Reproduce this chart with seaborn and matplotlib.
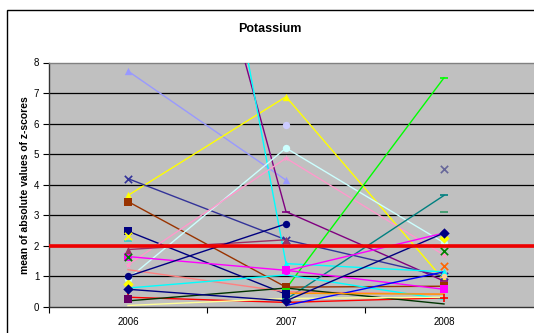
import numpy as np
import pandas as pd
import matplotlib
matplotlib.use("Agg")
import matplotlib.pyplot as plt
from matplotlib.patches import Rectangle
import seaborn as sns

# ---------- data ----------
years = ["2006", "2007", "2008"]
nan = np.nan

series_names = [f"s{i}" for i in range(1, 32)]
values = [
    [7.72, 4.15, nan],    # s1 lavender triangle
    [3.65, 6.88, 0.88],   # s2 yellow triangle
    [4.20, 2.20, 1.00],   # s3 slate x
    [3.45, 0.65, 0.68],   # s4 brown square
    [2.48, 0.42, nan],    # s5 navy square
    [22.0, 3.12, 0.85],   # s6 purple (clipped at 2006)
    [29.0, 1.42, 1.15],   # s7 cyan triangle (clipped at 2006)
    [0.92, 5.20, 2.10],   # s8 light cyan circle
    [1.38, 4.87, 1.70],   # s9 pink star
    [nan, 5.95, nan],     # s10 lavender circle
    [nan, 0.60, 7.50],    # s11 green dash
    [nan, 0.25, 3.65],    # s12 teal dash
    [nan, nan, 3.10],     # s13 sea green dash
    [nan, nan, 4.50],     # s14 grey-blue x
    [1.65, 1.20, 0.58],   # s15 magenta square
    [nan, 1.18, 2.42],    # s16 magenta circle
    [1.88, 2.20, nan],    # s17 mauve triangle
    [1.62, nan, 1.82],    # s18 green x
    [1.22, 0.50, 0.42],   # s19 salmon
    [0.62, 1.05, 0.25],   # s20 cyan
    [0.32, 0.15, 0.30],   # s21 red plus
    [0.25, nan, nan],     # s22 dark purple square
    [0.20, 0.62, 0.10],   # s23 dark green
    [0.05, 0.28, 0.32],   # s24 light yellow
    [nan, 0.05, 1.15],    # s25 blue
    [nan, 0.45, 0.42],    # s26 orange
    [0.75, nan, 2.25],    # s27 yellow diamond
    [2.15, nan, nan],     # s28 teal dash
    [2.32, nan, nan],     # s29 yellow x
    [1.00, 2.72, nan],    # s30 navy circle
    [0.58, 0.20, 2.42],   # s31 navy diamond
]
extra_marks = [           # single points with no line
    ("orange_x", 2, 1.35),
    ("peach", 2, 1.00),
]
threshold = 2.0

colors = ["#9999FF", "#FFFF00", "#333399", "#993300", "#000080", "#800080",
          "#00FFFF", "#CCFFFF", "#FF99CC", "#CCCCFF", "#00FF00", "#008080",
          "#339966", "#666699", "#FF00FF", "#FF00FF", "#993366", "#008000",
          "#FF8080", "#00FFFF", "#FF0000", "#660066", "#003300", "#FFFF99",
          "#0000FF", "#FF9900", "#FFFF00", "#33CCCC", "#FFFF00", "#000080",
          "#000080"]
markers = ["^", "^", "x", "s", "s", "_", "^", "o", "*", "o", "_", "_",
           "_", "x", "s", "o", "^", "x", None, None, "+", "s", None, None,
           None, None, "D", "_", "x", "o", "D"]

# ---------- long-form table, split into segments at gaps ----------
rows = []
for name, vals in zip(series_names, values):
    seg = 0
    for pos, v in enumerate(vals):
        if np.isnan(v):
            seg += 1
            continue
        rows.append({"series": name, "pos": pos, "value": v, "seg": f"{name}_{seg}"})
df = pd.DataFrame(rows)
palette = dict(zip(series_names, colors))

# ---------- figure ----------
fig = plt.figure(figsize=(5.34, 3.33), dpi=100)
plt.rcParams["font.family"] = ["Liberation Sans", "DejaVu Sans"]
ax = fig.add_axes([49 / 534, 26 / 333, 507 / 534, 244.5 / 333])
ax.set_facecolor("#C0C0C0")

for yv in range(1, 8):
    ax.axhline(yv, color="black", lw=0.9, zorder=1)

sns.lineplot(data=df, x="pos", y="value", hue="series", units="seg",
             estimator=None, palette=palette, lw=1.0, legend=False,
             ax=ax, zorder=3)

for name, mk in zip(series_names, markers):
    if mk is None:
        continue
    sub = df[df["series"] == name]
    sns.scatterplot(x=sub["pos"], y=sub["value"], color=palette[name],
                    marker=mk, s=28, linewidth=1.2 if mk in ("x", "+", "_") else 0,
                    edgecolor=palette[name], ax=ax, zorder=4, legend=False)

sns.scatterplot(x=[extra_marks[0][1]], y=[extra_marks[0][2]], color="#FF6600",
                marker="x", s=28, linewidth=1.2, ax=ax, zorder=4)
sns.scatterplot(x=[extra_marks[1][1]], y=[extra_marks[1][2]], color="#FFCC99",
                marker="o", s=16, linewidth=0, ax=ax, zorder=4)

ax.axhline(threshold, color="#EE0000", lw=2.6, zorder=5)

# ---------- axes styling ----------
ax.set_xlim(-0.5, -0.5 + 507 / 158)
ax.set_ylim(0, 8)
ax.set_xticks([0, 1, 2])
ax.set_xticklabels(years, fontsize=7)
ax.set_xticks([-0.5, 0.5, 1.5], minor=True)
ax.tick_params(axis="x", which="major", length=0, pad=7)
ax.tick_params(axis="x", which="minor", length=4, width=0.8, direction="out")
ax.set_yticks(range(0, 9))
ax.set_yticklabels([str(i) for i in range(0, 9)], fontsize=7)
ax.tick_params(axis="y", length=4, width=0.8, direction="out", pad=3)
ax.set_xlabel("")
ax.set_ylabel("mean of absolute values of z-scores", fontsize=7.5,
              fontweight="bold", labelpad=3)

for side in ["left", "bottom"]:
    ax.spines[side].set_color("#333333")
    ax.spines[side].set_linewidth(1.0)
ax.spines["top"].set_color("#808080")
ax.spines["top"].set_linewidth(1.0)
ax.spines["right"].set_visible(False)

fig.text(270 / 534, 1 - 29 / 333, "Potassium", ha="center", va="center",
         fontsize=9, fontweight="bold")

fig.patches.append(Rectangle((7 / 534, -0.1), 1.1, 1 - 10 / 333 + 0.1,
                             transform=fig.transFigure, fill=False,
                             edgecolor="black", lw=1.0))

fig.savefig("out.png", dpi=100)
